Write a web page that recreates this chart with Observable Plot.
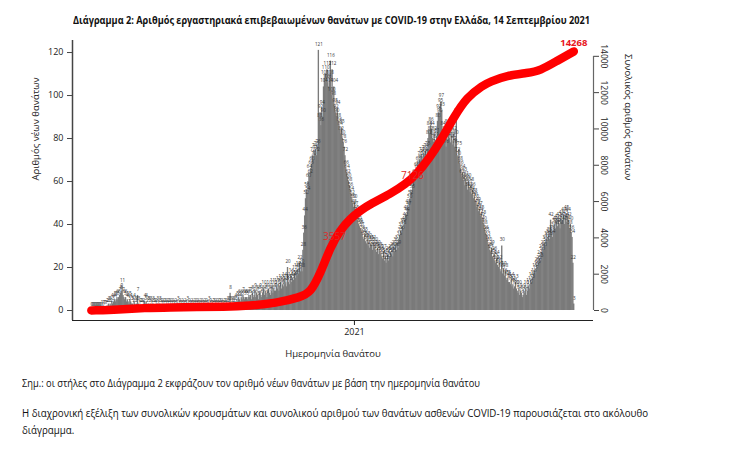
<!DOCTYPE html>
<html><head><meta charset="utf-8">
<script src="https://cdn.jsdelivr.net/npm/d3@7"></script>
<script src="https://cdn.jsdelivr.net/npm/@observablehq/plot@0.6"></script>
<style>
body{margin:0;background:#fff;}
#wrap{position:relative;width:733px;height:451px;overflow:hidden;font-family:"Open Sans",sans-serif;background:#fff;}
.t{position:absolute;white-space:nowrap;transform-origin:0 50%;color:#111;line-height:14px;}
#chart{position:absolute;left:0;top:30px;}
</style></head><body>
<div id="wrap">
<div id="title" class="t" style="left:73px;top:13px;font-weight:700;font-size:11px">Διάγραμμα 2: Αριθμός εργαστηριακά επιβεβαιωμένων θανάτων με COVID-19 στην Ελλάδα, 14 Σεπτεμβρίου 2021</div>
<div id="chart"></div>
<div id="note" class="t" style="left:22px;top:376px;font-size:10.5px">Σημ.: οι στήλες στο Διάγραμμα 2 εκφράζουν τον αριθμό νέων θανάτων με βάση την ημερομηνία θανάτου</div>
<div id="p1" class="t" style="left:22px;top:406px;font-size:10.5px">Η διαχρονική εξέλιξη των συνολικών κρουσμάτων και συνολικού αριθμού των θανάτων ασθενών COVID-19 παρουσιάζεται στο ακόλουθο</div>
<div id="p2" class="t" style="left:22px;top:423px;font-size:10.5px">διάγραμμα.</div>
</div>
<script>
// ---- Daily new deaths (by date of death), one array per month ----
const feb2020 = [0];
const mar2020 = [0,0,0,0,0,0,0,0,0,0,0,1,0,1,1,1,1,2,2,3,2,3,2,4,3,4,5,4,5,6,5];
const apr2020 = [6,7,8,9,11,7,6,5,6,4,5,4,3,5,4,3,3,2,4,3,2,3,7,3,1,2,2,2,1,2];
const may2020 = [4,3,4,2,3,3,2,3,1,2,3,2,2,1,2,3,1,2,3,2,1,2,1,2,2,1,2,1,2,2,1];
const jun2020 = [2,1,2,1,1,2,1,1,3,1,2,1,1,2,1,1,2,1,1,3,1,2,1,1,2,1,1,2,1,2];
const jul2020 = [1,2,1,1,2,1,2,1,1,2,1,2,1,1,3,1,2,1,1,2,2,1,2,1,2,1,2,2,1,2,1];
const aug2020 = [1,2,2,1,2,3,2,3,8,3,2,3,2,3,4,3,5,4,6,5,4,6,5,7,6,5,6,6,5,6,7];
const sep2020 = [6,7,5,8,6,7,9,6,8,7,5,8,9,7,6,8,10,7,9,8,6,9,10,8,7,9,11,8,10,9];
const oct2020 = [9,11,10,12,9,11,13,10,12,11,14,12,13,11,20,13,12,14,16,13,15,14,17,15,18,16,19,17,22,18,20];
const nov2020 = [18,28,36,44,52,56,54,60,64,62,66,68,72,70,74,73,75,72,76,121,88,92,86,94,90,104,108,110,106,112];
const dec2020 = [106,104,108,116,100,112,98,104,95,92,90,94,88,86,84,82,85,80,78,76,72,66,64,62,60,58,56,54,52,50,48];
const jan2021 = [50,47,45,44,42,40,39,38,37,36,34,33,35,32,31,33,30,32,29,31,30,28,31,29,30,28,27,29,26,28,27];
const feb2021 = [26,25,24,27,23,25,22,24,26,23,25,27,26,28,25,29,27,30,28,31,29,33,35,37,36,39,38,40];
const mar2021 = [42,45,44,48,47,50,52,56,55,58,60,62,61,65,64,68,66,70,69,72,71,70,73,72,74,71,75,80,84,82,86];
const apr2021 = [84,80,78,82,76,79,81,88,92,90,95,97,93,84,78,82,80,76,85,79,83,80,78,81,79,77,82,76,80,90];
const may2021 = [72,70,75,68,66,62,64,60,63,58,61,59,56,60,57,55,58,54,56,52,53,51,50,48,49,46,47,44,45,42,43];
const jun2021 = [40,38,36,35,33,31,30,28,27,29,25,24,26,23,22,24,21,20,22,19,18,30,17,19,16,18,15,14,15,13];
const jul2021 = [13,12,14,11,12,10,11,13,10,9,8,10,7,9,8,6,7,9,8,10,7,9,11,10,12,14,13,15,16,18,17];
const aug2021 = [19,21,20,22,24,23,27,26,29,28,31,30,33,32,34,35,33,42,36,34,37,39,40,38,41,39,42,40,38,43,41];
const sep2021 = [42,44,40,43,45,41,44,42,38,40,36,34,22,3];
const monthStarts = ["2020-02-29","2020-03-01","2020-04-01","2020-05-01","2020-06-01","2020-07-01","2020-08-01","2020-09-01","2020-10-01","2020-11-01","2020-12-01","2021-01-01","2021-02-01","2021-03-01","2021-04-01","2021-05-01","2021-06-01","2021-07-01","2021-08-01","2021-09-01"];
const monthValues = [feb2020,mar2020,apr2020,may2020,jun2020,jul2020,aug2020,sep2020,oct2020,nov2020,dec2020,jan2021,feb2021,mar2021,apr2021,may2021,jun2021,jul2021,aug2021,sep2021];

// ---- Cumulative deaths (red line) ----
const cumDates = ["2020-02-29","2020-04-01","2020-05-01","2020-06-01","2020-07-01","2020-08-01","2020-09-01","2020-10-01","2020-10-30","2020-11-11","2020-11-22","2020-12-04","2020-12-15","2020-12-27","2021-01-08","2021-01-20","2021-02-12","2021-03-02","2021-03-15","2021-03-30","2021-04-11","2021-04-27","2021-05-12","2021-05-31","2021-06-08","2021-06-28","2021-07-22","2021-08-06","2021-08-26","2021-09-14"];
const cumValues = [0,50,140,175,192,206,263,400,733,1008,2020,3487,4405,5050,5507,5874,6425,6975,7525,8440,9300,10640,11740,12400,12600,12940,13080,13215,13766,14268];

// ---- Labels on the red line ----
const lineLabelDates = ["2020-12-11","2021-03-12"];
const lineLabelTexts = ["3557","7126"];
const finalLabelDate = "2021-09-14";
const finalLabelText = "14268";

// ---- Axis ticks ----
const leftTicks = [0,20,40,60,80,100,120];
const rightTicks = [0,2000,4000,6000,8000,10000,12000,14000];
const xTickDates = ["2021-01-01"];

const parse = s => new Date(s + "T00:00:00Z");
const daily = [];
monthStarts.forEach((s, i) => {
  const start = parse(s);
  monthValues[i].forEach((v, j) => daily.push({date: d3.utcDay.offset(start, j), value: v}));
});
const cum = cumDates.map((s, i) => ({date: parse(s), cum: cumValues[i]}));
const interpCum = dt => {
  const t = +dt;
  for (let i = 1; i < cum.length; i++) {
    if (t <= +cum[i].date) {
      const a = cum[i-1], b = cum[i];
      return a.cum + (b.cum - a.cum) * (t - a.date) / (b.date - a.date);
    }
  }
  return cum[cum.length-1].cum;
};
const lineLabels = lineLabelDates.map((s, i) => ({date: parse(s), text: lineLabelTexts[i]}));
const finalLabel = [{date: parse(finalLabelDate), text: finalLabelText}];

const ratio = 118.4; // cumulative deaths per unit on the left axis
const xDomain = [parse("2020-02-07"), parse("2021-10-07")];
const yDomain = [-4.65, 125.6];

const chart = Plot.plot({
  width: 733, height: 340,
  marginLeft: 72, marginRight: 140, marginTop: 10, marginBottom: 50,
  style: {fontFamily: "Open Sans, sans-serif", fontSize: "9px", color: "#222", background: "transparent"},
  x: {type: "utc", domain: xDomain},
  y: {domain: yDomain},
  marks: [
    Plot.rectY(daily, {x1: "date", x2: d => d3.utcDay.offset(d.date, 1), y: "value", fill: "#7a7a7a", insetLeft: -0.25, insetRight: -0.25}),
    Plot.text(daily, {x: d => d3.utcHour.offset(d.date, 12), y: "value", text: d => String(d.value), dy: -6, fontSize: 4.5, fill: "#333"}),
    Plot.line(cum, {x: "date", y: d => d.cum / ratio, stroke: "#ff0000", strokeWidth: 8.5, curve: "basis", strokeLinecap: "round"}),
    Plot.text(lineLabels, {x: "date", y: d => interpCum(d.date) / ratio, text: "text", fill: "#dc2a2a", fontSize: 10, dx: -2}),
    Plot.text(finalLabel, {x: "date", y: d => interpCum(d.date) / ratio, text: "text", fill: "#e8141c", fontSize: 9.5, fontWeight: "bold", lineAnchor: "bottom", dy: -5}),
    Plot.ruleX([xDomain[0]], {stroke: "#444", strokeWidth: 1.5}),
    Plot.ruleY([yDomain[0]], {stroke: "#222", strokeWidth: 1}),
    Plot.ruleX([xDomain[1]], {y1: 0, y2: rightTicks[rightTicks.length-1] / ratio, stroke: "#666", strokeWidth: 1.2}),
    Plot.axisY(leftTicks, {anchor: "left", tickSize: 5, tickPadding: 4, label: null, stroke: "#444"}),
    Plot.axisY(rightTicks.map(v => v / ratio), {anchor: "right", tickSize: 5, tickPadding: 9, tickRotate: 90, fontSize: 8.5, tickFormat: d => String(Math.round(d * ratio / 1000) * 1000), label: null, stroke: "#444"}),
    Plot.axisX(xTickDates.map(parse), {tickSize: 5, tickPadding: 3, tickFormat: d => d3.utcFormat("%Y")(d), label: null}),
    Plot.text(["Αριθμός νέων θανάτων"], {frameAnchor: "left", dx: -37, rotate: -90, fontSize: 9.5, fill: "#222"}),
    Plot.text(["Συνολικός αριθμός θανάτων"], {frameAnchor: "right", dx: 35, rotate: 90, fontSize: 9.5, fill: "#222"}),
    Plot.text(["Ημερομηνία θανάτου"], {frameAnchor: "bottom", dy: 36, fontSize: 9.5, fill: "#222"})
  ]
});
document.getElementById("chart").appendChild(chart);

function fit(id, W) {
  const el = document.getElementById(id);
  el.style.transform = "none";
  const w = el.getBoundingClientRect().width;
  const s = W / w;
  el.style.transform = `scaleX(${s})`;
  return s;
}
function fitAll() {
  fit("title", 517);
  fit("note", 458);
  const s = fit("p1", 626);
  document.getElementById("p2").style.transform = `scaleX(${s})`;
}
fitAll();
if (document.fonts && document.fonts.ready) document.fonts.ready.then(fitAll);
</script>
</body></html>
